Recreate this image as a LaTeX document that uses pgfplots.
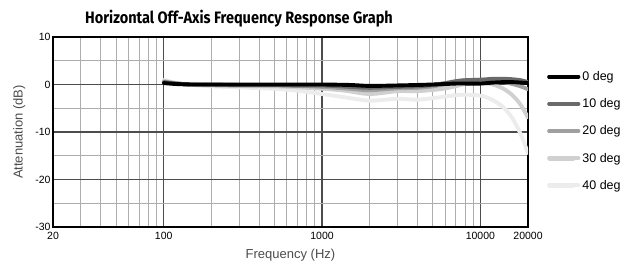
\documentclass[border=0pt]{standalone}
\usepackage{fontspec}
\setmainfont{Liberation Sans}
\newfontfamily\titlefont{Fira Sans}
\usepackage{graphicx}
\usepackage{pgfplots}
\pgfplotsset{compat=1.18}
\definecolor{cA}{HTML}{000000}
\definecolor{cB}{HTML}{6A6A6A}
\definecolor{cC}{HTML}{A0A0A0}
\definecolor{cD}{HTML}{D0D0D0}
\definecolor{cE}{HTML}{ECECEC}
\begin{document}
\begin{tikzpicture}
\useasboundingbox (0,0) rectangle (626pt,267pt);
\node[anchor=base west,inner sep=0pt,font=\titlefont\bfseries\fontsize{16.5}{18}\selectfont] at (85pt,243pt) {\scalebox{0.88}[1]{Horizontal Off-Axis Frequency Response Graph}};
\begin{axis}[
  at={(53pt,40pt)}, anchor=south west,
  scale only axis, width=475pt, height=190pt,
  xmode=log, log basis x=10,
  xmin=20, xmax=20000, ymin=-30, ymax=10,
  xtick={20,100,1000,10000,20000},
  xticklabels={20,100,1000,10000,20000},
  minor xtick={30,40,50,60,70,80,90,200,300,400,500,600,700,800,900,2000,3000,4000,5000,6000,7000,8000,9000},
  ytick={-30,-20,-10,0,10},
  yticklabels={-30,-20,-10,0,10},
  minor ytick={-25,-15,-5,5},
  major tick length=0pt, minor tick length=0pt,
  grid=both,
  major grid style={color=black!70, line width=1.1pt},
  minor grid style={color=black!32, line width=0.9pt},
  axis line style={line width=1.6pt},
  tick label style={font=\fontsize{10.5}{12}\selectfont},
  xticklabel style={yshift=-1.5pt},
  yticklabel style={xshift=1pt},
  xlabel={Frequency (Hz)}, ylabel={Attenuation (dB)},
  label style={font=\fontsize{13}{15}\selectfont, text=black!70},
  xlabel style={yshift=-3pt},
  ylabel style={yshift=3pt},
  reverse legend,
  legend style={at={(1.04,0.83)}, anchor=north west, draw=none, fill=none,
    font=\fontsize{12.5}{14}\selectfont, row sep=12.6pt, inner sep=0pt},
  legend cell align=left,
  legend image code/.code={\draw[#1, line width=4.5pt] (0pt,0pt) -- (24pt,0pt); \path (0pt,0pt) -- (29pt,0pt);},
  every axis plot/.append style={line width=3.9pt, smooth, tension=0.5, line cap=round},
]
\addplot[cE] coordinates {(100,1.0)(120,0.3)(150,-0.1)(200,-0.4)(300,-0.6)(500,-0.9)(700,-1.3)(1000,-2.0)(1400,-2.7)(2000,-3.4)(3000,-3.0)(4000,-3.2)(5500,-2.7)(7300,-2.2)(9000,-2.2)(10500,-2.5)(12000,-3.3)(14000,-4.8)(16000,-7.2)(18000,-10.5)(20000,-14.5)};
\addlegendentry{40 deg}
\addplot[cD] coordinates {(100,0.8)(120,0.3)(150,0)(200,-0.2)(300,-0.3)(500,-0.4)(700,-0.6)(1000,-0.9)(1400,-1.3)(2000,-2.0)(3000,-1.4)(4000,-1.4)(5500,-1.0)(6700,-0.5)(8000,0.1)(10000,0.4)(12000,0.0)(14000,-0.9)(16000,-2.3)(18000,-4.3)(20000,-7.0)};
\addlegendentry{30 deg}
\addplot[cC] coordinates {(100,0.6)(120,0.2)(150,0)(200,-0.1)(300,-0.2)(500,-0.2)(700,-0.3)(1000,-0.5)(1500,-0.9)(2000,-1.2)(3000,-0.8)(4000,-0.7)(5000,-0.4)(6000,0.1)(7000,0.6)(8000,0.9)(10000,1.0)(12000,0.8)(14000,0.5)(16000,0.1)(18000,-0.4)(20000,-1.0)};
\addlegendentry{20 deg}
\addplot[cB] coordinates {(100,0.5)(120,0.2)(150,0)(200,0)(300,-0.1)(500,-0.1)(700,-0.2)(1000,-0.2)(1500,-0.5)(2000,-0.7)(3000,-0.5)(4000,-0.4)(5000,-0.1)(6000,0.3)(7000,0.7)(8000,0.9)(10000,1.0)(12000,1.2)(14000,1.2)(16000,1.1)(18000,0.9)(20000,0.5)};
\addlegendentry{10 deg}
\addplot[cA] coordinates {(100,0.3)(120,0.1)(150,0)(200,0)(300,0)(500,0)(700,0)(1000,0)(1500,-0.1)(2000,-0.3)(3000,-0.2)(4000,-0.1)(5000,0)(6000,0.1)(7000,0.2)(8000,0.2)(10000,0.2)(12000,0.4)(14000,0.5)(16000,0.5)(18000,0.4)(20000,0.3)};
\addlegendentry{0 deg}
\end{axis}
\end{tikzpicture}
\end{document}
